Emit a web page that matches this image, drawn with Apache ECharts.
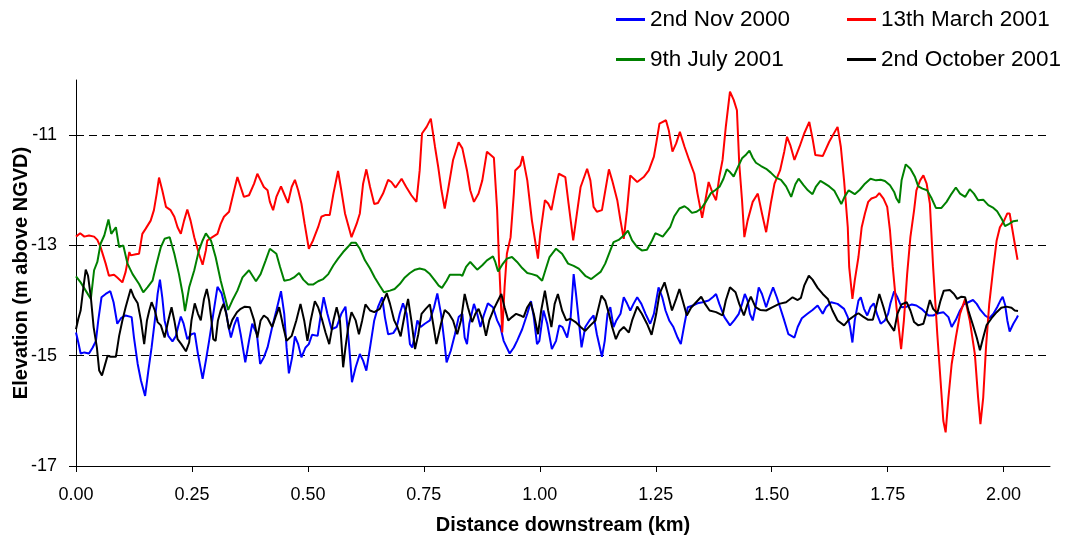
<!DOCTYPE html>
<html lang="en">
<head>
    <meta charset="UTF-8">
    <title>Elevation profiles</title>
    <script src="https://cdn.jsdelivr.net/npm/echarts@6/dist/echarts.min.js"></script>
    <style>
        html, body { margin: 0; padding: 0; background: #fff; }
        #container { width: 1073px; height: 540px; }
    </style>
</head>
<body>
<div id="container"></div>

<script>
    var seriesNames = ['2nd Nov 2000', '13th March 2001', '9th July 2001', '2nd October 2001'];
    var seriesColors = ['#0000ff', '#ff0000', '#008000', '#000000'];
    var xTicks = [0, 0.25, 0.5, 0.75, 1, 1.25, 1.5, 1.75, 2];
    var yTicks = [-17, -15, -13, -11];

    // 2nd Nov 2000 (blue)
    var novDist = [0.000, 0.005, 0.010, 0.018, 0.028, 0.036, 0.043, 0.048, 0.055, 0.064, 0.074, 0.081, 0.089, 0.097, 0.107, 0.120, 0.125, 0.133, 0.140, 0.149, 0.156, 0.163, 0.170, 0.176, 0.181, 0.186, 0.191, 0.199, 0.208, 0.215, 0.220, 0.226, 0.232, 0.240, 0.249, 0.256, 0.263, 0.273, 0.280, 0.287, 0.296, 0.305, 0.314, 0.323, 0.329, 0.334, 0.341, 0.348, 0.355, 0.365, 0.373, 0.380, 0.390, 0.397, 0.405, 0.413,
        0.423, 0.432, 0.442, 0.449, 0.454, 0.459, 0.466, 0.472, 0.479, 0.486, 0.495, 0.502, 0.509, 0.521, 0.528, 0.534, 0.542, 0.551, 0.562, 0.572, 0.581, 0.588, 0.595, 0.603, 0.612, 0.619, 0.626, 0.634, 0.643, 0.651, 0.660, 0.666, 0.673, 0.684, 0.691, 0.698, 0.705, 0.713, 0.720, 0.725, 0.731, 0.736, 0.743, 0.752, 0.763, 0.772, 0.779, 0.787, 0.794, 0.799, 0.808, 0.817, 0.825,
        0.833, 0.838, 0.843, 0.848, 0.858, 0.865, 0.872, 0.879, 0.888, 0.899, 0.908, 0.915, 0.922, 0.935, 0.944, 0.951, 0.962, 0.973, 0.981, 0.987, 0.994, 0.999, 1.008, 1.016, 1.026, 1.035, 1.042, 1.049, 1.059, 1.066, 1.070, 1.073, 1.078, 1.084, 1.090, 1.098, 1.107, 1.116, 1.123, 1.134, 1.140, 1.146, 1.152, 1.159, 1.165, 1.174, 1.181, 1.188, 1.195, 1.202, 1.210, 1.219, 1.228, 1.238, 1.246,
        1.251, 1.256, 1.264, 1.271, 1.279, 1.288, 1.297, 1.304, 1.312, 1.319, 1.330, 1.340, 1.351, 1.364, 1.374, 1.380, 1.387, 1.398, 1.410, 1.419, 1.429, 1.436, 1.442, 1.448, 1.453, 1.459, 1.465, 1.472, 1.479, 1.488, 1.495, 1.503, 1.511, 1.518, 1.527, 1.536, 1.549, 1.556, 1.565, 1.577, 1.588, 1.599, 1.610, 1.617, 1.628, 1.642, 1.656, 1.664,
        1.669, 1.674, 1.679, 1.687, 1.692, 1.699, 1.706, 1.713, 1.720, 1.728, 1.735, 1.744, 1.751, 1.756, 1.764, 1.771, 1.780, 1.791, 1.802, 1.812, 1.823, 1.838, 1.848, 1.859, 1.870, 1.881, 1.888, 1.897, 1.906, 1.914, 1.924, 1.934, 1.942, 1.950, 1.960, 1.969, 1.978, 1.986, 1.993, 1.998, 2.003, 2.008, 2.013, 2.021, 2.028, 2.031];
    var novElev = [-14.58, -14.76, -14.96, -14.94, -14.96, -14.85, -14.73, -14.36, -13.94, -13.88, -13.83, -14.03, -14.42, -14.32, -14.27, -14.30, -14.67, -15.15, -15.45, -15.73, -15.27, -14.85, -14.36, -13.88, -13.62, -13.94, -14.36, -14.64, -14.74, -14.65, -14.48, -14.29, -14.42, -14.70, -14.61, -14.59, -14.97, -15.42, -15.09, -14.73, -14.24, -13.75, -13.87, -14.18, -14.48, -14.67, -14.45, -14.30, -14.61, -15.12, -14.73, -14.42, -14.61, -15.15, -15.03, -14.85,
        -14.48, -14.18, -13.83, -14.24, -14.85, -15.32, -15.03, -14.65, -14.79, -15.03, -14.85, -14.79, -14.62, -14.64, -14.24, -13.94, -14.24, -14.52, -14.48, -14.24, -14.11, -14.73, -15.48, -15.21, -14.97, -15.09, -15.27, -14.85, -14.36, -14.12, -13.94, -14.30, -14.61, -14.59, -14.50, -14.24, -14.05, -14.24, -14.79, -14.85, -14.61, -14.36, -14.48, -14.42, -14.36, -14.12, -13.87, -14.24, -14.73, -15.12, -14.91, -14.61, -14.30,
        -14.24, -14.67, -14.79, -14.42, -14.06, -14.24, -14.48, -14.27, -14.05, -14.12, -14.36, -14.48, -14.73, -14.96, -14.85, -14.73, -14.52, -14.24, -14.01, -14.30, -14.79, -14.73, -14.18, -14.42, -14.88, -14.73, -14.45, -14.48, -14.67, -14.36, -13.88, -13.52, -13.88, -14.36, -14.85, -14.48, -14.36, -14.27, -14.61, -15.02, -14.73, -14.24, -14.12, -14.48, -14.36, -14.24, -13.94, -14.05, -14.18, -14.06, -13.94, -14.06, -14.24, -14.42, -14.24,
        -14.00, -13.76, -13.94, -14.18, -14.36, -14.48, -14.67, -14.79, -14.42, -14.12, -14.09, -14.05, -14.03, -14.00, -13.93, -13.88, -14.06, -14.30, -14.45, -14.36, -14.24, -14.06, -13.88, -14.00, -14.24, -14.36, -14.12, -13.76, -13.88, -14.12, -13.94, -13.76, -13.94, -14.12, -14.36, -14.61, -14.67, -14.48, -14.32, -14.24, -14.17, -14.09, -14.24, -14.12, -14.03, -14.06, -14.15, -14.30,
        -14.48, -14.76, -14.36, -14.00, -13.94, -14.15, -14.27, -14.12, -14.05, -14.27, -14.42, -14.36, -14.24, -14.05, -13.83, -13.94, -14.12, -14.11, -14.07, -14.09, -14.15, -14.27, -14.27, -14.23, -14.21, -14.30, -14.48, -14.35, -14.18, -14.07, -14.03, -13.99, -14.06, -14.17, -14.27, -14.32, -14.24, -14.12, -14.00, -13.93, -14.07, -14.36, -14.56, -14.42, -14.32, -14.27];

    // 13th March 2001 (red)
    var marDist = [0.000, 0.009, 0.018, 0.028, 0.039, 0.046, 0.053, 0.064, 0.071, 0.082, 0.089, 0.100, 0.107, 0.115, 0.118, 0.129, 0.136, 0.143, 0.150, 0.161, 0.168, 0.174, 0.179, 0.186, 0.194, 0.204, 0.212, 0.219, 0.226, 0.233, 0.240, 0.247, 0.255, 0.265, 0.273, 0.280, 0.283, 0.294, 0.305, 0.312, 0.319, 0.330, 0.334, 0.341, 0.348, 0.355, 0.362, 0.373, 0.384, 0.391, 0.398, 0.405, 0.413, 0.418,
        0.425, 0.432, 0.442, 0.450, 0.457, 0.465, 0.472, 0.479, 0.486, 0.493, 0.502, 0.511, 0.522, 0.529, 0.537, 0.547, 0.555, 0.565, 0.572, 0.580, 0.594, 0.605, 0.612, 0.619, 0.626, 0.634, 0.643, 0.651, 0.662, 0.673, 0.680, 0.689, 0.702, 0.712, 0.723, 0.734, 0.741, 0.746, 0.756, 0.765, 0.774, 0.781, 0.788, 0.795, 0.802, 0.813, 0.825,
        0.833, 0.843, 0.850, 0.858, 0.868, 0.876, 0.886, 0.901, 0.908, 0.912, 0.919, 0.924, 0.929, 0.937, 0.944, 0.947, 0.958, 0.963, 0.973, 0.983, 0.996, 1.001, 1.011, 1.018, 1.025, 1.034, 1.041, 1.055, 1.062, 1.072, 1.080, 1.088, 1.102, 1.109, 1.116, 1.123, 1.134, 1.149, 1.156, 1.167, 1.174, 1.181, 1.188, 1.195, 1.210, 1.224, 1.235, 1.246,
        1.251, 1.258, 1.272, 1.278, 1.286, 1.294, 1.302, 1.312, 1.322, 1.333, 1.340, 1.350, 1.357, 1.364, 1.373, 1.380, 1.387, 1.394, 1.401, 1.410, 1.418, 1.425, 1.430, 1.436, 1.441, 1.448, 1.459, 1.470, 1.479, 1.488, 1.498, 1.506, 1.518, 1.527, 1.533, 1.540, 1.549, 1.560, 1.570, 1.581, 1.588, 1.594, 1.610, 1.624, 1.642, 1.649, 1.656, 1.664, 1.667,
        1.674, 1.679, 1.687, 1.694, 1.701, 1.708, 1.715, 1.725, 1.732, 1.741, 1.749, 1.755, 1.761, 1.769, 1.779, 1.785, 1.792, 1.799, 1.807, 1.812, 1.820, 1.827, 1.834, 1.841, 1.848, 1.857, 1.864, 1.870, 1.875, 1.881, 1.888, 1.897, 1.906, 1.917, 1.927, 1.938, 1.945, 1.950, 1.956, 1.962, 1.969, 1.978, 1.985, 1.992, 2.001, 2.008, 2.013, 2.018, 2.024, 2.030];
    var marElev = [-12.84, -12.78, -12.84, -12.82, -12.84, -12.90, -13.03, -13.33, -13.55, -13.53, -13.58, -13.67, -13.48, -13.12, -13.18, -13.16, -13.15, -12.79, -12.70, -12.55, -12.36, -12.06, -11.77, -12.00, -12.30, -12.36, -12.48, -12.67, -12.79, -12.55, -12.35, -12.55, -12.85, -13.15, -13.35, -13.09, -12.91, -12.85, -12.79, -12.61, -12.48, -12.39, -12.36, -12.00, -11.76, -11.94, -12.12, -12.09, -11.88, -11.70, -11.82, -11.94, -12.00, -12.21,
        -12.36, -12.12, -11.93, -12.09, -12.23, -11.94, -11.81, -12.00, -12.24, -12.61, -13.06, -12.91, -12.67, -12.48, -12.45, -12.45, -12.06, -11.65, -12.00, -12.42, -12.85, -12.61, -12.42, -11.88, -11.62, -11.94, -12.25, -12.23, -12.06, -11.81, -11.85, -11.95, -11.79, -11.94, -12.09, -12.21, -11.64, -10.97, -10.85, -10.70, -11.21, -11.58, -12.00, -12.33, -12.00, -11.45, -11.13,
        -11.24, -11.64, -12.00, -12.21, -12.06, -11.82, -11.30, -11.41, -12.36, -13.27, -14.58, -13.76, -13.15, -12.85, -12.06, -11.64, -11.55, -11.38, -11.82, -12.55, -13.24, -12.79, -12.18, -12.24, -12.36, -11.97, -11.70, -11.76, -12.24, -12.91, -12.42, -11.94, -11.61, -11.82, -12.30, -12.39, -12.36, -11.62, -11.82, -12.18, -12.55, -12.88, -12.36, -11.73, -11.85, -11.76, -11.64, -11.39,
        -11.15, -10.79, -10.73, -10.91, -11.30, -11.15, -10.94, -11.21, -11.45, -11.70, -12.06, -12.50, -12.18, -11.85, -12.06, -12.18, -11.76, -11.45, -10.85, -10.21, -10.36, -10.55, -11.52, -12.18, -12.85, -12.55, -12.21, -12.06, -12.42, -12.76, -12.24, -11.88, -11.64, -11.30, -11.03, -11.18, -11.45, -11.21, -10.97, -10.76, -11.06, -11.36, -11.38, -11.12, -10.85, -11.21, -11.82, -12.67, -13.39,
        -13.97, -13.64, -13.21, -12.67, -12.42, -12.21, -12.15, -12.12, -12.05, -12.15, -12.30, -12.73, -13.39, -14.12, -14.88, -14.36, -13.52, -12.85, -12.36, -12.00, -11.82, -11.73, -11.88, -12.24, -13.39, -14.61, -15.45, -16.18, -16.39, -15.76, -15.15, -14.67, -14.24, -13.97, -14.36, -14.97, -15.76, -16.24, -15.76, -14.85, -14.06, -13.39, -12.91, -12.67, -12.55, -12.42, -12.42, -12.67, -12.97, -13.26];

    // 9th July 2001 (green)
    var julDist = [0.000, 0.010, 0.021, 0.032, 0.039, 0.046, 0.053, 0.061, 0.070, 0.076, 0.086, 0.093, 0.102, 0.111, 0.122, 0.136, 0.145, 0.154, 0.165, 0.172, 0.183, 0.191, 0.202, 0.212, 0.222, 0.230, 0.235, 0.244, 0.255, 0.265, 0.273, 0.280, 0.291, 0.301, 0.312, 0.323, 0.328, 0.337, 0.348, 0.359, 0.373, 0.388, 0.398, 0.409, 0.418,
        0.422, 0.432, 0.440, 0.449, 0.461, 0.470, 0.481, 0.490, 0.501, 0.511, 0.522, 0.533, 0.544, 0.555, 0.565, 0.576, 0.587, 0.594, 0.603, 0.612, 0.623, 0.634, 0.644, 0.655, 0.664, 0.677, 0.687, 0.698, 0.709, 0.720, 0.731, 0.741, 0.752, 0.763, 0.774, 0.782, 0.789, 0.799, 0.806, 0.817, 0.828,
        0.833, 0.841, 0.850, 0.865, 0.876, 0.886, 0.899, 0.904, 0.910, 0.919, 0.929, 0.940, 0.951, 0.962, 0.973, 0.983, 0.994, 1.005, 1.012, 1.021, 1.035, 1.048, 1.061, 1.073, 1.084, 1.098, 1.111, 1.120, 1.131, 1.141, 1.152, 1.159, 1.170, 1.181, 1.190, 1.199, 1.210, 1.220, 1.231, 1.242, 1.249, 1.255,
        1.265, 1.281, 1.290, 1.301, 1.312, 1.319, 1.328, 1.338, 1.348, 1.358, 1.369, 1.378, 1.388, 1.396, 1.403, 1.410, 1.418, 1.427, 1.436, 1.445, 1.452, 1.459, 1.466, 1.477, 1.488, 1.498, 1.509, 1.520, 1.531, 1.542, 1.551, 1.558, 1.569, 1.578, 1.588, 1.595, 1.605, 1.613, 1.624, 1.635, 1.642, 1.650, 1.657, 1.666,
        1.679, 1.690, 1.701, 1.713, 1.725, 1.735, 1.744, 1.755, 1.764, 1.769, 1.775, 1.780, 1.789, 1.799, 1.809, 1.816, 1.825, 1.835, 1.845, 1.854, 1.866, 1.877, 1.888, 1.897, 1.906, 1.917, 1.927, 1.936, 1.945, 1.956, 1.967, 1.978, 1.986, 1.996, 2.003, 2.010, 2.021, 2.031];
    var julElev = [-13.56, -13.67, -13.82, -13.97, -13.45, -13.30, -12.97, -12.82, -12.53, -12.79, -12.67, -13.03, -13.00, -13.33, -13.52, -13.70, -13.85, -13.76, -13.64, -13.39, -13.03, -12.88, -12.85, -13.15, -13.52, -13.88, -14.19, -13.76, -13.45, -13.09, -12.91, -12.78, -12.91, -13.21, -13.64, -14.00, -14.17, -14.00, -13.82, -13.58, -13.45, -13.65, -13.52, -13.27, -13.06,
        -13.06, -13.15, -13.39, -13.64, -13.62, -13.58, -13.50, -13.62, -13.71, -13.71, -13.65, -13.61, -13.52, -13.36, -13.24, -13.12, -13.02, -12.95, -12.95, -13.06, -13.27, -13.42, -13.58, -13.73, -13.85, -13.82, -13.79, -13.70, -13.58, -13.50, -13.44, -13.42, -13.44, -13.52, -13.64, -13.73, -13.77, -13.64, -13.53, -13.53, -13.53,
        -13.55, -13.39, -13.30, -13.44, -13.36, -13.27, -13.20, -13.30, -13.47, -13.35, -13.24, -13.21, -13.30, -13.41, -13.50, -13.52, -13.55, -13.64, -13.45, -13.21, -13.06, -13.15, -13.33, -13.37, -13.42, -13.55, -13.61, -13.55, -13.48, -13.33, -13.09, -12.94, -12.90, -12.82, -12.73, -12.91, -13.03, -13.09, -13.08, -12.91, -12.78, -12.80,
        -12.84, -12.67, -12.47, -12.33, -12.29, -12.33, -12.41, -12.39, -12.33, -12.21, -12.05, -12.00, -11.93, -11.79, -11.62, -11.67, -11.75, -11.58, -11.42, -11.35, -11.28, -11.41, -11.50, -11.56, -11.61, -11.68, -11.77, -11.81, -11.93, -12.12, -11.89, -11.79, -11.91, -12.00, -12.07, -11.94, -11.83, -11.87, -11.93, -12.01, -12.12, -12.25, -12.12, -12.00,
        -12.07, -11.99, -11.88, -11.79, -11.82, -11.81, -11.83, -11.91, -12.03, -12.15, -12.23, -11.82, -11.53, -11.61, -11.76, -11.93, -11.97, -12.00, -12.15, -12.32, -12.32, -12.21, -12.06, -11.95, -12.06, -12.12, -11.98, -12.06, -12.18, -12.17, -12.27, -12.32, -12.38, -12.52, -12.65, -12.62, -12.56, -12.55];

    // 2nd October 2001 (black)
    var octDist = [0.000, 0.005, 0.010, 0.016, 0.021, 0.026, 0.032, 0.038, 0.045, 0.050, 0.056, 0.062, 0.068, 0.075, 0.086, 0.093, 0.100, 0.107, 0.113, 0.118, 0.125, 0.133, 0.140, 0.147, 0.153, 0.158, 0.163, 0.170, 0.176, 0.183, 0.191, 0.199, 0.206, 0.212, 0.219, 0.227, 0.237, 0.244, 0.249, 0.256, 0.263, 0.269, 0.276, 0.282, 0.287, 0.292, 0.296, 0.301, 0.306, 0.312, 0.318, 0.324, 0.330, 0.337, 0.347, 0.355, 0.364, 0.375, 0.384, 0.391, 0.398, 0.405, 0.413,
        0.423, 0.430, 0.438, 0.447, 0.454, 0.465, 0.475, 0.484, 0.492, 0.499, 0.506, 0.515, 0.522, 0.531, 0.538, 0.546, 0.555, 0.562, 0.569, 0.576, 0.581, 0.587, 0.594, 0.603, 0.610, 0.617, 0.624, 0.634, 0.643, 0.655, 0.670, 0.677, 0.686, 0.693, 0.700, 0.709, 0.716, 0.723, 0.731, 0.738, 0.745, 0.754, 0.763, 0.770, 0.777, 0.787, 0.795, 0.804, 0.813, 0.822, 0.830,
        0.838, 0.845, 0.854, 0.861, 0.868, 0.877, 0.884, 0.891, 0.901, 0.908, 0.917, 0.924, 0.932, 0.940, 0.949, 0.958, 0.965, 0.973, 0.980, 0.987, 0.996, 1.003, 1.011, 1.018, 1.025, 1.032, 1.039, 1.048, 1.057, 1.066, 1.077, 1.088, 1.098, 1.109, 1.120, 1.133, 1.141, 1.149, 1.156, 1.164, 1.172, 1.181, 1.192, 1.199, 1.210, 1.220, 1.231, 1.241, 1.248,
        1.251, 1.258, 1.269, 1.276, 1.285, 1.294, 1.301, 1.308, 1.317, 1.326, 1.337, 1.348, 1.357, 1.366, 1.380, 1.394, 1.401, 1.410, 1.422, 1.430, 1.440, 1.448, 1.455, 1.465, 1.475, 1.488, 1.502, 1.516, 1.531, 1.545, 1.556, 1.563, 1.570, 1.580, 1.588, 1.599, 1.610, 1.621, 1.631, 1.642, 1.656, 1.666,
        1.679, 1.687, 1.697, 1.708, 1.718, 1.725, 1.732, 1.741, 1.749, 1.756, 1.764, 1.771, 1.780, 1.791, 1.799, 1.807, 1.816, 1.827, 1.835, 1.841, 1.848, 1.857, 1.864, 1.871, 1.884, 1.893, 1.900, 1.909, 1.917, 1.924, 1.933, 1.942, 1.949, 1.956, 1.963, 1.974, 1.985, 1.995, 2.006, 2.017, 2.024, 2.031];
    var octElev = [-14.52, -14.33, -14.18, -13.76, -13.44, -13.55, -13.94, -14.48, -14.85, -15.27, -15.36, -15.18, -15.00, -15.02, -15.02, -14.64, -14.36, -14.12, -13.94, -13.79, -13.94, -14.05, -14.36, -14.79, -14.36, -14.18, -14.03, -14.18, -14.39, -14.45, -14.67, -14.36, -14.12, -14.36, -14.70, -14.79, -14.92, -14.76, -14.36, -14.05, -14.24, -14.36, -13.97, -13.79, -14.00, -14.36, -14.70, -14.73, -14.36, -14.18, -14.06, -14.24, -14.52, -14.35, -14.21, -14.15, -14.11, -14.12, -14.36, -14.67, -14.36, -14.27, -14.32,
        -14.48, -14.30, -14.12, -14.48, -14.73, -14.64, -14.36, -14.06, -14.36, -14.73, -14.36, -14.01, -14.12, -14.36, -14.58, -14.79, -14.36, -14.12, -14.36, -15.21, -14.85, -14.48, -14.21, -14.36, -14.61, -14.36, -14.07, -14.18, -14.21, -14.15, -13.87, -14.06, -14.36, -14.48, -14.65, -14.24, -13.97, -14.36, -14.88, -14.61, -14.24, -14.15, -14.07, -14.42, -14.79, -14.42, -14.17, -14.24, -14.36, -14.61, -14.36,
        -13.88, -14.12, -14.39, -14.24, -14.15, -14.36, -14.64, -14.36, -14.15, -14.03, -13.88, -14.12, -14.36, -14.30, -14.24, -14.27, -14.30, -14.12, -14.03, -14.24, -14.61, -14.18, -13.82, -14.18, -14.48, -14.06, -13.88, -14.18, -14.36, -14.33, -14.39, -14.48, -14.55, -14.45, -14.36, -13.91, -14.00, -14.24, -14.48, -14.70, -14.55, -14.48, -14.58, -14.36, -14.11, -14.24, -14.42, -14.62, -14.36,
        -14.24, -13.88, -13.67, -13.88, -14.18, -13.97, -13.79, -14.00, -14.27, -14.13, -14.03, -13.93, -14.07, -14.18, -14.21, -14.27, -14.00, -13.76, -13.85, -14.06, -14.27, -14.06, -13.93, -14.12, -14.17, -14.18, -14.12, -14.06, -14.03, -13.94, -13.99, -13.95, -13.73, -13.55, -13.62, -13.77, -13.88, -13.97, -14.18, -14.36, -14.45, -14.35,
        -14.27, -14.23, -14.29, -14.35, -14.35, -14.12, -13.88, -14.12, -14.36, -14.45, -14.55, -14.24, -14.07, -14.03, -14.18, -14.39, -14.45, -14.42, -14.18, -13.99, -14.15, -14.23, -14.00, -13.82, -13.81, -13.88, -13.97, -13.93, -13.94, -14.18, -14.42, -14.67, -14.90, -14.67, -14.45, -14.32, -14.21, -14.13, -14.11, -14.13, -14.18, -14.19];

    var dists = [novDist, marDist, julDist, octDist];
    var elevs = [novElev, marElev, julElev, octElev];

    function pairs(d, e) {
        return d.map(function (x, i) { return [x, e[i]]; });
    }

    var fontName = 'Liberation Sans, Arial, sans-serif';
    var myChart = echarts.init(document.getElementById('container'), null, {renderer: 'canvas'});

    var legendPos = [[616, 8], [847, 8], [616, 48], [847, 48]];
    var legends = seriesNames.map(function (name, i) {
        return {
            data: [name],
            left: legendPos[i][0],
            top: legendPos[i][1],
            padding: 0,
            itemWidth: 29,
            itemHeight: 3,
            icon: 'rect',
            textStyle: {fontSize: 22.5, color: '#000', fontFamily: fontName}
        };
    });

    var series = seriesNames.map(function (name, i) {
        return {
            name: name,
            type: 'line',
            data: pairs(dists[i], elevs[i]),
            symbol: 'none',
            showSymbol: false,
            itemStyle: {color: seriesColors[i]},
            lineStyle: {color: seriesColors[i], width: 2},
            emphasis: {disabled: true}
        };
    });

    var option = {
        animation: false,
        backgroundColor: '#fff',
        textStyle: {fontFamily: fontName},
        color: seriesColors,
        legend: legends,
        grid: {left: 76, right: 23, top: 80, bottom: 74, containLabel: false, outerBoundsMode: 'none'},
        xAxis: {
            type: 'value',
            min: 0,
            max: 2.1,
            name: 'Distance downstream (km)',
            nameLocation: 'middle',
            nameGap: 49,
            nameMoveOverlap: false,
            nameTextStyle: {fontSize: 20, fontWeight: 'bold', color: '#000', fontFamily: fontName},
            axisLine: {show: true, onZero: false, lineStyle: {color: '#000', width: 1}},
            axisTick: {show: true, customValues: xTicks, length: 6, lineStyle: {color: '#000'}},
            axisLabel: {
                customValues: xTicks,
                margin: 20,
                fontSize: 18,
                color: '#000',
                fontFamily: fontName,
                formatter: function (v) { return v.toFixed(2); }
            },
            splitLine: {show: false}
        },
        yAxis: {
            type: 'value',
            min: -17,
            max: -10,
            name: 'Elevation (m above NGVD)',
            nameLocation: 'middle',
            nameGap: 45,
            nameRotate: 90,
            nameMoveOverlap: false,
            nameTextStyle: {fontSize: 20, fontWeight: 'bold', color: '#000', fontFamily: fontName},
            axisLine: {show: true, onZero: false, lineStyle: {color: '#000', width: 1}},
            axisTick: {show: true, customValues: yTicks, length: 7, lineStyle: {color: '#000'}},
            axisLabel: {customValues: yTicks, margin: 19, fontSize: 18, color: '#000', fontFamily: fontName},
            splitLine: {show: true, lineStyle: {color: '#000', width: 1, type: [8, 5]}}
        },
        series: series
    };

    myChart.setOption(option);
</script>
</body>
</html>
